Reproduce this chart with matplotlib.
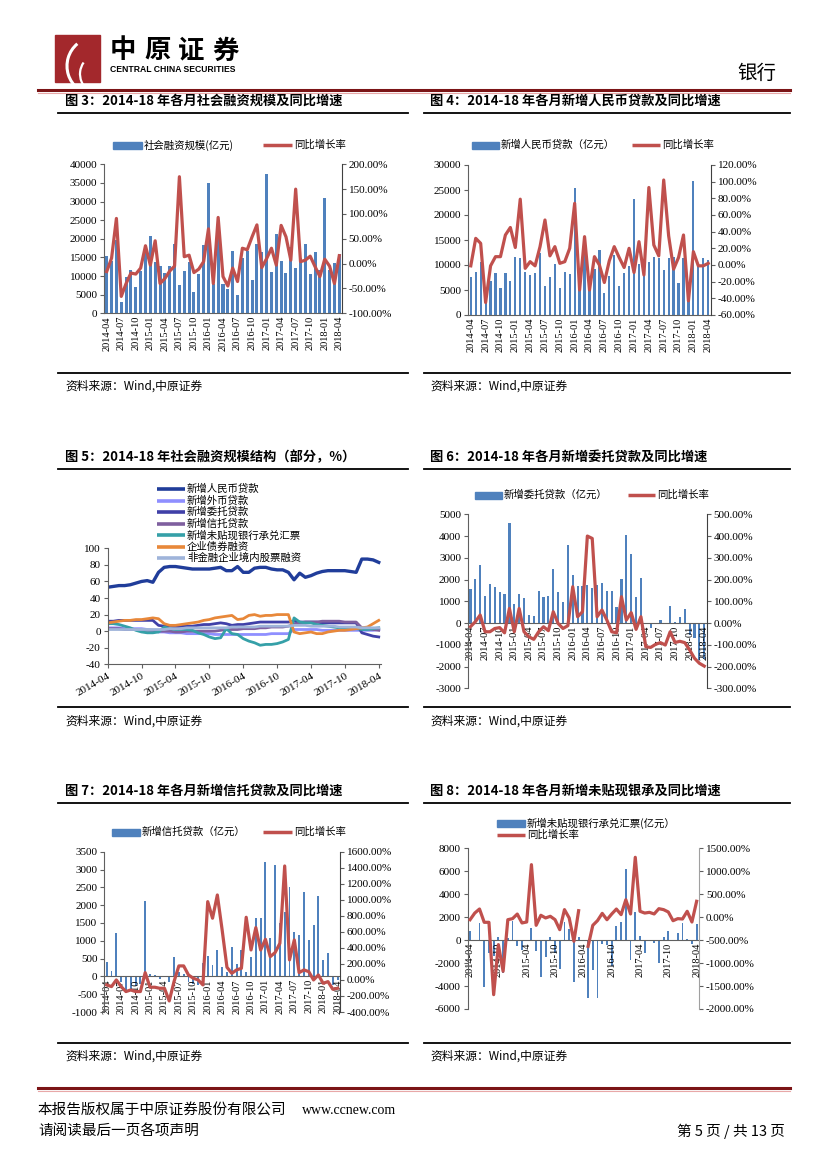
import matplotlib
matplotlib.use('Agg')
import matplotlib.pyplot as plt
from matplotlib.patches import Rectangle, Arc
from matplotlib.ticker import FuncFormatter
import numpy as np
import pandas as pd

plt.rcParams['font.family'] = ['Liberation Serif', 'Noto Sans CJK SC']
plt.rcParams['axes.unicode_minus'] = False

CJK = ['Noto Sans CJK SC', 'DejaVu Sans']
BLUE = '#4F81BD'
RED = '#C0504D'

# month categories 2014-04 .. 2018-04
months = pd.date_range('2014-04-01', '2018-04-01', freq='MS').strftime('%Y-%m').tolist()
x = np.arange(len(months))

# fig 3: social financing (亿元) and yoy (%)
tsf = [15500, 14100, 19700, 3000, 9800, 11600, 7100, 11400, 16900, 20800, 13700, 12700, 10700,
       12600, 18500, 7700, 11400, 13700, 5800, 10500, 18300, 35100, 7900, 23400, 8000, 6600,
       16700, 5000, 14900, 16700, 9000, 18500, 16500, 37300, 11100, 21400, 14000, 10800, 17800,
       12200, 14800, 18600, 10600, 16500, 11600, 31000, 11700, 13600, 15800]
tsf_yoy = [-16, 11, 91, -66, -40, -19, -21, -9, 36, -3, 46, -40, -30, -15, -5, 175, 14, 17, -18,
           -11, 4, 70, -40, 93, -26, -45, -9, -36, 31, 28, 54, 78, -8, 10, 31, -3, 77, 54, 7, 150,
           4, 7, 15, -6, -26, 9, -5, -40, 16]

# fig 4: new RMB loans
rmb = [7700, 8700, 10700, 3900, 6900, 8500, 5400, 8500, 6900, 11700, 11400, 8700, 8000, 8400,
       12400, 5900, 7700, 10300, 5500, 8700, 8200, 25400, 8000, 13700, 5600, 9200, 13100, 4500,
       7900, 12000, 5900, 8400, 9900, 23200, 10200, 10200, 10700, 11700, 11400, 9100, 11400,
       11700, 6500, 11400, 5800, 26900, 10000, 11400, 11000]
rmb_yoy = [-1, 32, 26, -45, -1, 10, 10, 36, 45, 21, 79, -4, 4, -1, 22, 54, 11, 22, 2, 4, 20, 74,
           -30, 34, -30, 10, 0, -21, 5, 22, 9, -3, 20, -9, 28, -12, 93, 24, 11, 102, 35, -5, 9,
           36, -43, 16, -1, -1, 2]

# fig 5: structure of social financing (%)
s_rmb = [53, 54, 55, 55, 56, 58, 60, 61, 59, 71, 77, 78, 78, 77, 76, 75, 75, 75, 75, 76, 77, 73,
         73, 78, 71, 71, 76, 77, 77, 75, 74, 74, 71, 62, 70, 65, 67, 70, 72, 73, 73, 73, 73, 72,
         71, 87, 87, 86, 83]
s_fx = [4, 4, 4, 3, 3, 3, 3, 2, 1, -1, -1, -2, -2, -2, -3, -3, -3, -3, -3, -4, -4, -4, -4, -4,
        -4, -4, -4, -4, -4, -3, -3, -3, -3, 2, 2, 2, 2, 2, 1, 1, 1, 1, 1, 1, 1, 1, 1, 1, 2]
s_wt = [12, 12, 13, 13, 13, 13, 13, 13, 13, 7, 6, 6, 5, 6, 6, 6, 7, 8, 8, 9, 10, 9, 7, 8, 8, 9,
        10, 11, 11, 11, 11, 11, 11, 12, 11, 11, 11, 11, 10, 10, 10, 10, 10, 10, 10, -2, -4, -6, -7]
s_xt = [3, 3, 3, 2, 2, 2, 1, 1, 1, 0, 0, 0, -1, -1, 0, 0, 0, 0, 0, 0, 1, 2, 2, 2, 3, 3, 3, 4, 4,
        5, 5, 5, 6, 8, 10, 11, 11, 11, 12, 12, 12, 12, 11, 11, 11, 4, 3, 2, 1]
s_wp = [9, 9, 8, 6, 4, 1, -1, -2, -2, -1, 5, 3, 2, 2, 2, 1, -2, -4, -7, -9, -8, 3, -3, -4, -9,
        -12, -14, -17, -16, -16, -15, -13, -10, 16, 11, 10, 10, 8, 7, 6, 5, 4, 4, 3, 3, 2, 2, 3, 4]
s_bond = [10, 11, 12, 13, 13, 14, 14, 15, 16, 15, 9, 7, 7, 8, 9, 10, 11, 13, 14, 16, 17, 18, 19,
          14, 15, 19, 20, 18, 19, 19, 20, 20, 20, -1, -3, -2, -1, -3, -3, -1, 0, 1, 1, 2, 3, 4,
          5, 9, 13]
s_eq = [2, 2, 2, 2, 2, 2, 2, 2, 2, 2, 2, 3, 3, 3, 4, 4, 4, 4, 4, 4, 4, 4, 5, 5, 5, 5, 5, 6, 6, 6,
        6, 6, 6, 7, 7, 7, 6, 6, 6, 6, 6, 5, 5, 5, 5, 4, 4, 4, 4]
struct_names = ['新增人民币贷款', '新增外币贷款', '新增委托贷款', '新增信托贷款',
                '新增未贴现银行承兑汇票', '企业债券融资', '非金融企业境内股票融资']
struct_colors = ['#203D9A', '#8F8FFF', '#4040A8', '#7F5F9F', '#35A0A8', '#E8883A', '#9FB4DA']

# fig 6: entrusted loans
wt = [1550, 2020, 2650, 1260, 1790, 1640, 1410, 1320, 4580, 870, 1330, 1130, 370, 340, 1460,
      1180, 1230, 2470, 1410, 950, 3570, 2210, 1690, 1690, 1750, 1590, 1750, 1820, 1470, 1470,
      750, 2020, 4050, 3160, 1210, 2050, 20, -250, 0, 160, -50, 800, 60, 300, 630, -550, -700,
      -1700, -1650]
wt_yoy = [-17, 6, 37, -40, -40, -25, -21, -45, 67, -40, 67, -40, -63, -75, -40, -17, -35, 52, -2,
          -25, -12, 167, 29, 52, 400, 389, 29, 60, 14, -40, -45, 121, 14, 48, -29, 29, -109, -112,
          -98, -90, -101, -40, -89, -84, -90, -124, -162, -185, -198]

# fig 7: trust loans
xt = [400, 140, 1220, -150, -480, -380, -280, -200, 2120, 60, 50, -60, 20, -150, 550, 130, 60,
      -160, -200, -250, 380, 560, 310, 740, 260, 120, 820, 350, 750, 130, 540, 1650, 1650, 3200,
      1070, 3140, 1500, 1800, 2500, 1240, 1150, 2380, 1030, 1450, 2270, 450, 670, -250, -100]
xt_yoy = [-62, -83, 0, -83, -145, -125, -145, -145, 91, -91, -91, -104, -104, -262, -20, 175,
          175, 62, 21, 0, -62, 977, 770, 1060, 623, 158, 83, 125, 145, 782, 374, 653, 374, 507,
          291, 341, 457, 1422, 250, 499, 91, 125, 104, 0, 62, -42, -21, -116, -104]

# fig 8: undiscounted bankers' acceptances
wp = [820, -50, 1480, -4100, -1080, -1350, 300, -2880, 200, 1690, -480, -850, 50, 1030, -950,
      -3220, -1470, 280, -1150, -2480, 1560, 1000, -3640, 290, 50, -5000, -2630, -5060, -340,
      -400, -2230, 1210, 1620, 6190, -1690, 2450, 370, -1100, -100, -240, -2010, 250, 820, -50,
      650, 1450, 100, -300, 1400]
wp_yoy = [-55, 90, 178, -112, -112, -1688, -598, -1179, -55, -32, 68, -126, -105, 1144, -177, 41,
          -17, 19, -54, -272, 164, -17, -525, 141, np.nan, -635, -178, -75, 83, -55, 68, 177, 55,
          380, 70, 1304, 128, 90, 105, 70, 185, 164, 113, -77, -32, -40, 128, -105, 346]

W, H = 827, 1169
fig = plt.figure(figsize=(W / 100, H / 100), dpi=100)
page = fig.add_axes([0, 0, 1, 1])
page.set_xlim(0, W)
page.set_ylim(H, 0)
page.axis('off')
page.set_zorder(10)


def box(x0, y0, x1, y1):
    return fig.add_axes([x0 / W, 1 - y1 / H, (x1 - x0) / W, (y1 - y0) / H])


def pct(v, p):
    return f'{v:.2f}%'


def bar_line(rect, vals, yoy, ylim, ystep, y2lim, y2step, bw, tstep, at_zero=False,
             rcolor='#404040'):
    ax = box(*rect)
    ax.spines['top'].set_visible(False)
    ax.spines['right'].set_visible(False)
    for s in ['left', 'bottom']:
        ax.spines[s].set_color('#606060')
        ax.spines[s].set_linewidth(0.8)
    if at_zero:
        ax.spines['bottom'].set_position(('data', 0))
    ax.bar(x, vals, width=bw, color=BLUE, zorder=1)
    ax.set_xlim(-0.5, len(x) - 0.5)
    ax.set_ylim(*ylim)
    ax.set_yticks(np.arange(ylim[0], ylim[1] + 1, ystep))
    ax.set_xticks(x[::tstep])
    ax.set_xticklabels(months[::tstep], rotation=90, fontsize=7.5)
    ax.tick_params(axis='x', length=0, pad=2)
    ax.tick_params(axis='y', direction='out', length=3, labelsize=8, pad=2, color='#606060')
    ax2 = ax.twinx()
    ax2.plot(x, yoy, color=RED, lw=2.3, solid_joinstyle='round')
    ax2.set_ylim(*y2lim)
    ax2.set_yticks(np.arange(y2lim[0], y2lim[1] + 1, y2step))
    ax2.yaxis.set_major_formatter(FuncFormatter(pct))
    ax2.tick_params(axis='y', direction='out', length=3, labelsize=8, pad=2, color='#606060')
    for s in ['top', 'left', 'bottom']:
        ax2.spines[s].set_visible(False)
    ax2.spines['right'].set_color(rcolor)
    return ax, ax2


def legend_bar(x0, y, label, w=28):
    page.add_patch(Rectangle((x0, y - 3.5), w, 7, color=BLUE))
    page.text(x0 + w + 2, y, label, fontsize=7.5, va='center', family=CJK)


def legend_line(x0, y, label, color=RED, w=29, lw=2.5, fs=7.5):
    page.plot([x0, x0 + w], [y, y], color=color, lw=lw, solid_capstyle='butt')
    page.text(x0 + w + 2, y, label, fontsize=fs, va='center', family=CJK)


# ---- header
page.add_patch(Rectangle((55, 35), 45, 47, color='#A3282C'))
page.add_patch(Arc((96, 66), 58, 58, theta1=95, theta2=230, color='white', lw=2.2))
page.add_patch(Arc((100, 74), 40, 40, theta1=100, theta2=215, color='white', lw=1.6))
for k, ch in enumerate('中原证券'):
    page.text(110 + 34 * k, 51, ch, fontsize=19, fontweight='bold', family=CJK, va='center')
page.text(110, 70, 'CENTRAL CHINA SECURITIES', fontsize=6.2, fontweight='bold',
          family=['Liberation Sans'], va='center')
page.text(776, 73, '银行', fontsize=14, family=CJK, ha='right', va='center')
page.plot([38, 790], [90, 90], color='#7B1416', lw=2.2)
page.plot([38, 790], [92.5, 92.5], color='#E8A8A8', lw=0.8)

# ---- section titles, rules and sources
titles = [(65, 101, '图 3：2014-18 年各月社会融资规模及同比增速'),
          (430, 101, '图 4：2014-18 年各月新增人民币贷款及同比增速'),
          (65, 457, '图 5：2014-18 年社会融资规模结构（部分，%）'),
          (430, 457, '图 6：2014-18 年各月新增委托贷款及同比增速'),
          (65, 791, '图 7：2014-18 年各月新增信托贷款及同比增速'),
          (430, 791, '图 8：2014-18 年各月新增未贴现银承及同比增速')]
for tx, ty, t in titles:
    page.text(tx, ty, t, fontsize=9.5, fontweight='bold', family=CJK, va='center')
for y_top, y_bot, src in [(113, 373, 386), (469, 707, 721), (803, 1043, 1056)]:
    page.plot([58, 408], [y_top, y_top], color='black', lw=1.3)
    page.plot([424, 790], [y_top, y_top], color='black', lw=1.3)
    page.plot([58, 408], [y_bot, y_bot], color='black', lw=1.3)
    page.plot([424, 790], [y_bot, y_bot], color='black', lw=1.3)
    page.text(65, src, '资料来源：Wind,中原证券', fontsize=8.5, va='center', family=CJK)
    page.text(430, src, '资料来源：Wind,中原证券', fontsize=8.5, va='center', family=CJK)

# ---- fig 3
bar_line((104.3, 164.3, 341.7, 313.3), tsf, tsf_yoy, (0, 40000), 5000, (-100, 200), 50, 0.62, 3)
legend_bar(113, 145, '社会融资规模(亿元)', w=29)
legend_line(263, 145, '同比增长率')

# ---- fig 4
bar_line((468.3, 165, 710.7, 315), rmb, rmb_yoy, (0, 30000), 5000, (-60, 120), 20, 0.45, 3)
legend_bar(472, 145, '新增人民币贷款（亿元）', w=27)
legend_line(632, 145, '同比增长率', w=28)

# ---- fig 5
ax5 = box(107.7, 548.3, 381, 664.3)
series = [s_rmb, s_fx, s_wt, s_xt, s_wp, s_bond, s_eq]
for vals, c in zip(series, struct_colors):
    ax5.plot(x, vals, color=c, lw=2.4 if c == '#203D9A' else 2.0, solid_joinstyle='round')
ax5.set_xlim(0, 48.4)
ax5.set_ylim(-40, 100)
ax5.set_yticks(np.arange(-40, 101, 20))
ax5.set_xticks(x[::6])
ax5.set_xticklabels(months[::6], rotation=30, ha='right', va='top', rotation_mode='anchor',
                    fontsize=8)
ax5.tick_params(direction='out', length=3, labelsize=8, pad=2, color='#606060')
ax5.spines['top'].set_visible(False)
ax5.spines['right'].set_visible(False)
for s in ['left', 'bottom']:
    ax5.spines[s].set_color('#606060')
    ax5.spines[s].set_linewidth(0.8)
for k, (name, c) in enumerate(zip(struct_names, struct_colors)):
    legend_line(157, 489 + 11.5 * k, name, color=c, w=28, lw=2.6, fs=7.5)

# ---- fig 6
bar_line((468, 514.3, 706.7, 688.3), wt, wt_yoy, (-3000, 5000), 1000, (-300, 500), 100, 0.45, 3,
         at_zero=True)
legend_bar(475, 495, '新增委托贷款（亿元）', w=27)
legend_line(628, 495, '同比增长率', w=27)

# ---- fig 7
bar_line((104.3, 851.7, 340, 1012), xt, xt_yoy, (-1000, 3500), 500, (-400, 1600), 200, 0.4, 3,
         at_zero=True)
legend_bar(112, 832, '新增信托贷款（亿元）', w=28)
legend_line(263, 832, '同比增长率', w=29)

# ---- fig 8
bar_line((467.7, 848.3, 699, 1009), wp, wp_yoy, (-6000, 8000), 2000, (-2000, 1500), 500, 0.4, 6,
         at_zero=True, rcolor='#A0A0A0')
legend_bar(497, 823, '新增未贴现银行承兑汇票(亿元）', w=28)
legend_line(497, 835, '同比增长率', w=28)

# ---- footer
page.plot([38, 790], [1088, 1088], color='#7B1416', lw=2.2)
page.plot([38, 790], [1090.5, 1090.5], color='#E8A8A8', lw=0.8)
page.text(38, 1111, '本报告版权属于中原证券股份有限公司', fontsize=10.5, va='center', family=CJK)
page.text(302, 1111, 'www.ccnew.com', fontsize=10, va='center')
page.text(38, 1131, '请阅读最后一页各项声明', fontsize=10.5, va='center', family=CJK)
page.text(785, 1131, '第 5 页 / 共 13 页', fontsize=10.5, va='center', ha='right', family=CJK)

fig.savefig('out.png', dpi=100)
